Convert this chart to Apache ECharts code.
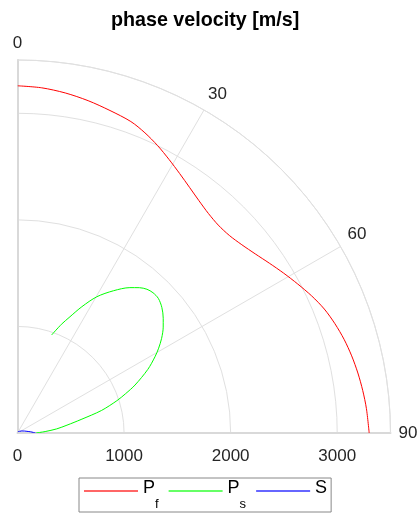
<!DOCTYPE html>
<html><head><meta charset="utf-8">
<script src="https://cdn.jsdelivr.net/npm/echarts@6/dist/echarts.min.js"></script>
<style>html,body{margin:0;padding:0;background:#fff}#c{width:419px;height:516px}</style>
</head><body><div id="c"></div>
<script>
const titleText = 'phase velocity [m/s]';
const seriesNames = ['Pf', 'Ps', 'S'];
const seriesColors = ['#ff0000', '#00ff00', '#0000ff'];

// angle in degrees (0 = top, 90 = right), radius in m/s
const pfAngle  = [0, 4, 8, 12, 16, 20, 23, 26, 29, 32, 35, 38, 41, 44, 47, 50, 53, 56, 59, 62, 65, 68, 71, 74, 77, 80, 83, 86, 90];
const pfRadius = [3258, 3247, 3222, 3188, 3148, 3110, 3060, 3000, 2934, 2871, 2814, 2766, 2730, 2712, 2718, 2748, 2793, 2850, 2913, 2978, 3045, 3105, 3150, 3188, 3218, 3243, 3264, 3282, 3300];

const psAngle  = [19.2, 22, 24.3, 27, 30.2, 34, 37.7, 40, 42, 44, 46.3, 49, 51.8, 54, 56.7, 59, 61, 64, 67.8, 70, 72, 75, 78, 81, 84, 87, 90];
const psRadius = [974, 1100, 1197, 1330, 1479, 1610, 1724, 1780, 1815, 1830, 1828, 1795, 1740, 1690, 1618, 1545, 1475, 1360, 1191, 1080, 980, 815, 610, 470, 370, 260, 173];

const sAngle  = [10, 30, 50, 65, 75, 80, 85, 88, 90];
const sRadius = [12, 15, 25, 45, 70, 90, 125, 150, 170];

const radiusTicks = [0, 1000, 2000, 3000];
const angleTicks = [0, 30, 60, 90];
const radiusMax = 3500;

function pairs(rs, as) { return rs.map((r, i) => [r, as[i]]); }
const seriesData = [pairs(pfRadius, pfAngle), pairs(psRadius, psAngle), pairs(sRadius, sAngle)];
const legendLabels = { Pf: '{p|P}{sub|f}', Ps: '{p|P}{sub|s}', S: '{q|S}' };

const FONT = 'Liberation Sans, Arial, sans-serif';
const CENTER = [17.5, 433];
const RADIUS = 373;

const chart = echarts.init(document.getElementById('c'), null, { renderer: 'canvas' });
chart.setOption({
  animation: false,
  backgroundColor: '#fff',
  title: {
    text: titleText, left: 106, top: 6,
    textStyle: { fontFamily: FONT, fontSize: 19.7, fontWeight: 'bold', color: '#000' }
  },
  polar: [{ center: CENTER, radius: RADIUS }, { center: CENTER, radius: RADIUS }],
  angleAxis: [{
    polarIndex: 0, type: 'value', min: 0, max: 90, interval: 30,
    startAngle: 90, endAngle: 0, clockwise: true,
    axisLine: { show: true, lineStyle: { color: '#e0e0e0', width: 1 } },
    axisTick: { show: false },
    splitLine: { show: true, lineStyle: { color: '#e0e0e0', width: 1 } },
    axisLabel: {
      margin: 8, color: '#262626', fontSize: 17, fontFamily: FONT,
      formatter: v => angleTicks.includes(v) ? String(v) : ''
    }
  }, {
    polarIndex: 1, type: 'value', min: 0, max: 90, interval: 30,
    startAngle: 0, endAngle: 90, clockwise: false, show: false,
    axisLine: { show: false }, axisTick: { show: false }, axisLabel: { show: false }, splitLine: { show: false }
  }],
  radiusAxis: [{
    polarIndex: 0, type: 'value', min: 0, max: radiusMax, interval: 1000,
    axisLine: { show: true, lineStyle: { color: '#d9d9d9', width: 2 } },
    axisTick: { show: false },
    splitLine: { show: true, lineStyle: { color: '#e0e0e0', width: 1 } },
    axisLabel: { show: false }
  }, {
    polarIndex: 1, type: 'value', min: 0, max: radiusMax, interval: 1000,
    axisLine: { show: true, lineStyle: { color: '#d9d9d9', width: 2 } },
    axisTick: { show: false },
    splitLine: { show: false },
    axisLabel: {
      margin: -32, color: '#262626', fontSize: 17, fontFamily: FONT,
      formatter: v => radiusTicks.includes(v) ? String(v) : ''
    }
  }],
  legend: {
    left: 79, top: 478, orient: 'horizontal',
    padding: [1, 4, 1, 5], itemGap: 10, itemWidth: 54, itemHeight: 2,
    icon: 'rect',
    itemStyle: { opacity: 0.6 },
    borderColor: '#888', borderWidth: 1,
    data: seriesNames,
    formatter: name => legendLabels[name],
    textStyle: {
      fontFamily: FONT, color: '#000',
      rich: {
        p: { fontSize: 18, lineHeight: 24, verticalAlign: 'top', fontFamily: FONT, color: '#000' },
        q: { fontSize: 18, lineHeight: 24, padding: [0, 0, 5, 0], fontFamily: FONT, color: '#000' },
        sub: { fontSize: 13, lineHeight: 14, padding: [19, 0, 0, 0], verticalAlign: 'top', fontFamily: FONT, color: '#000' }
      }
    }
  },
  series: seriesNames.map((n, i) => ({
    name: n, type: 'line', coordinateSystem: 'polar', polarIndex: 0,
    data: seriesData[i], symbol: 'none', showSymbol: false, smooth: 0.3,
    lineStyle: { color: seriesColors[i], width: 1 }, itemStyle: { color: seriesColors[i] }
  }))
});
</script></body></html>
